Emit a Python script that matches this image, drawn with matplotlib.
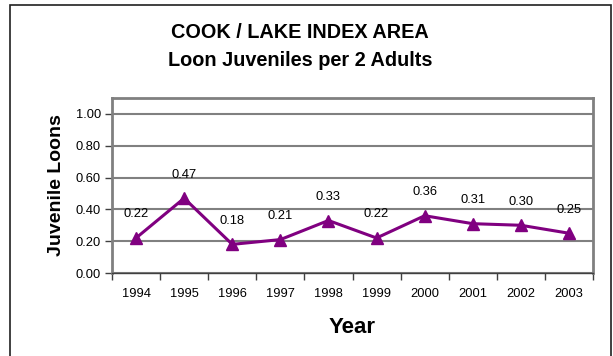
import matplotlib.pyplot as plt
import matplotlib.patches as patches
import numpy as np

years = ['1994', '1995', '1996', '1997', '1998', '1999', '2000', '2001', '2002', '2003']
juveniles = [0.22, 0.47, 0.18, 0.21, 0.33, 0.22, 0.36, 0.31, 0.30, 0.25]
yticks = [0.0, 0.2, 0.4, 0.6, 0.8, 1.0]

plt.rcParams['font.family'] = ['Liberation Sans', 'DejaVu Sans']

fig = plt.figure(figsize=(6.13, 3.56), dpi=100)
ax = fig.add_axes([112/613, 1-273/356, (593-112)/613, (273-98)/356])

# outer chart frame
fig.patches.append(patches.Rectangle((10/613, -0.1), (611-10)/613, 1.1 - 5/356,
                                     transform=fig.transFigure, fill=False,
                                     edgecolor='#202020', linewidth=1.2))

x = np.arange(len(years))
ax.plot(x, juveniles, color='#800080', linewidth=2.2, marker='^',
        markersize=9, markerfacecolor='#800080', markeredgecolor='#800080')

for xi, v in zip(x, juveniles):
    ax.annotate(f'{v:.2f}', (xi, v), xytext=(0, 17), textcoords='offset points',
                ha='center', va='center', fontsize=9.3)

ax.set_xlim(-0.5, len(years) - 0.5)
ax.set_ylim(0, 1.1)
ax.set_yticks(yticks)
ax.set_yticklabels([f'{t:.2f}' for t in yticks], fontsize=9.3)
ax.set_xticks(x)
ax.set_xticklabels(years, fontsize=9.3)
ax.set_xticks(np.arange(-0.5, len(years)), minor=True)
ax.tick_params(axis='x', which='major', length=0, pad=11)
ax.tick_params(axis='x', which='minor', length=5, width=1, color='#404040')
ax.tick_params(axis='y', length=5, width=1, color='#404040', pad=3)
ax.yaxis.grid(True, color='#808080', linewidth=1.5)
ax.set_axisbelow(True)
for s in ax.spines.values():
    s.set_color('#808080')
    s.set_linewidth(2)
ax.spines['bottom'].set_color('#404040')
ax.spines['bottom'].set_linewidth(1)

ax.set_ylabel('Juvenile Loons', fontsize=14, fontweight='bold', labelpad=8)
ax.set_xlabel('Year', fontsize=16, fontweight='bold', labelpad=12)

fig.text(300/613, 1-33/356, 'COOK / LAKE INDEX AREA', ha='center', va='center',
         fontsize=14.3, fontweight='bold')
fig.text(300/613, 1-61/356, 'Loon Juveniles per 2 Adults', ha='center', va='center',
         fontsize=14.3, fontweight='bold')

fig.savefig('out.png', dpi=100)
